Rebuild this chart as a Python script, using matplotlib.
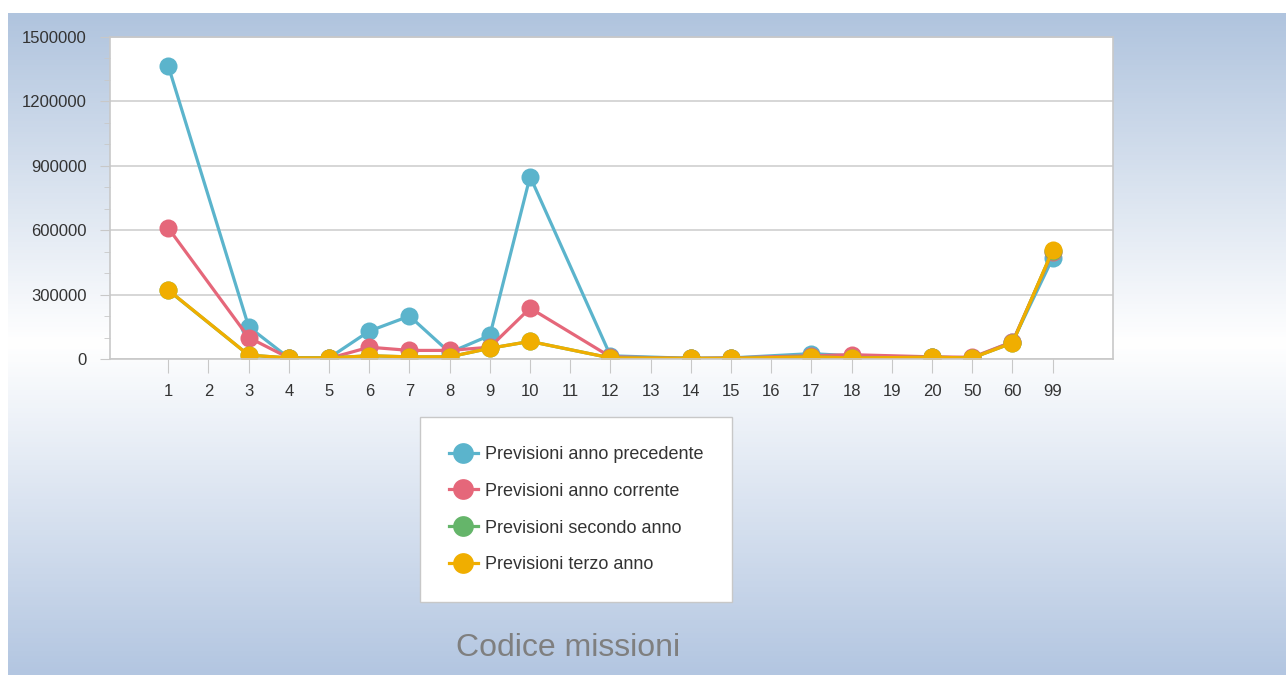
import numpy as np
import matplotlib.pyplot as plt
from matplotlib.colors import LinearSegmentedColormap
from matplotlib.ticker import FuncFormatter

plt.rcParams['font.family'] = ['DejaVu Sans Condensed', 'Liberation Sans', 'DejaVu Sans']

codici = ['1', '2', '3', '4', '5', '6', '7', '8', '9', '10', '11', '12', '13',
          '14', '15', '16', '17', '18', '19', '20', '50', '60', '99']
nan = np.nan
prev_precedente = [1365000, nan, 150000, 5000, 5000, 130000, 200000, 30000, 110000, 850000, nan,
                   15000, nan, 3000, 5000, nan, 25000, 15000, nan, 8000, 5000, 80000, 470000]
prev_corrente = [610000, nan, 100000, 5000, 3000, 55000, 40000, 40000, 55000, 237000, nan,
                 10000, nan, 3000, 5000, nan, 15000, 20000, nan, 10000, 8000, 80000, 500000]
prev_secondo = [320000, nan, 18000, 5000, 5000, 15000, 10000, 10000, 50000, 82000, nan,
                5000, nan, 3000, 3000, nan, 10000, 5000, nan, 8000, 5000, 75000, 505000]
prev_terzo = [321000, nan, 18000, 5000, 5000, 15000, 10000, 10000, 50000, 82000, nan,
              5000, nan, 3000, 3000, nan, 10000, 5000, nan, 8000, 5000, 75000, 507000]

serie = [('Previsioni anno precedente', prev_precedente, '#5BB4CC'),
         ('Previsioni anno corrente', prev_corrente, '#E5677A'),
         ('Previsioni secondo anno', prev_secondo, '#65B56A'),
         ('Previsioni terzo anno', prev_terzo, '#F0AE00')]

fig = plt.figure(figsize=(12.86, 6.75), dpi=100)

# sfondo sfumato
bg = fig.add_axes([8 / 1286, 0, 1 - 8 / 1286, 1 - 13 / 675])
bg.axis('off')
cmap = LinearSegmentedColormap.from_list('bg', [(0, '#B0C4DE'), (0.5, '#FFFFFF'), (1, '#B3C6E1')])
grad = np.concatenate([np.linspace(0, 0.5, 330), np.linspace(0.5, 1, 332)])[:, None]
bg.imshow(grad, aspect='auto', cmap=cmap, vmin=0, vmax=1, extent=[0, 1, 0, 1])

ax = fig.add_axes([110 / 1286, 1 - 359 / 675, (1113 - 110) / 1286, (359 - 37) / 675])
ax.set_facecolor('white')
x = np.arange(len(codici))
for nome, vals, col in serie:
    v = np.array(vals, dtype=float)
    m = ~np.isnan(v)
    ax.plot(x[m], v[m], '-o', color=col, lw=2.3, ms=13, label=nome,
            markeredgewidth=0)

ax.set_xlim(-1.45, 23.5)
ax.set_ylim(0, 1500000)
ax.set_yticks(np.arange(0, 1500001, 300000))
ax.set_yticks(np.arange(0, 1500001, 100000), minor=True)
ax.yaxis.set_major_formatter(FuncFormatter(lambda v, p: '%d' % v))
ax.set_xticks(x)
ax.set_xticklabels(codici)
ax.grid(axis='y', color='#D0D0D0', lw=1.2)
ax.set_axisbelow(True)
for s in ax.spines.values():
    s.set_color('#C8C8C8')
    s.set_linewidth(1.2)
ax.tick_params(axis='y', which='major', length=7, color='#C8C8C8', labelsize=12, labelcolor='#333333', pad=10)
ax.tick_params(axis='y', which='minor', length=4, color='#C8C8C8')
ax.tick_params(axis='x', length=10, color='#C8C8C8', labelsize=12, labelcolor='#333333', pad=8)

leg = fig.legend(loc='upper left', bbox_to_anchor=(420 / 1286, 1 - 417 / 675), fontsize=13,
                 frameon=True, fancybox=False, framealpha=1, borderpad=1.6, labelspacing=1.1,
                 handlelength=1.6, handletextpad=0.4, borderaxespad=0, markerscale=1.15)
leg.get_frame().set_edgecolor('#C8C8C8')
leg.get_frame().set_linewidth(1.0)
for t in leg.get_texts():
    t.set_color('#333333')

fig.text(568 / 1286, 1 - 648 / 675, 'Codice missioni', ha='center', va='center',
         fontsize=23, color='#7F7F7F')

fig.savefig('out.png', dpi=100)
